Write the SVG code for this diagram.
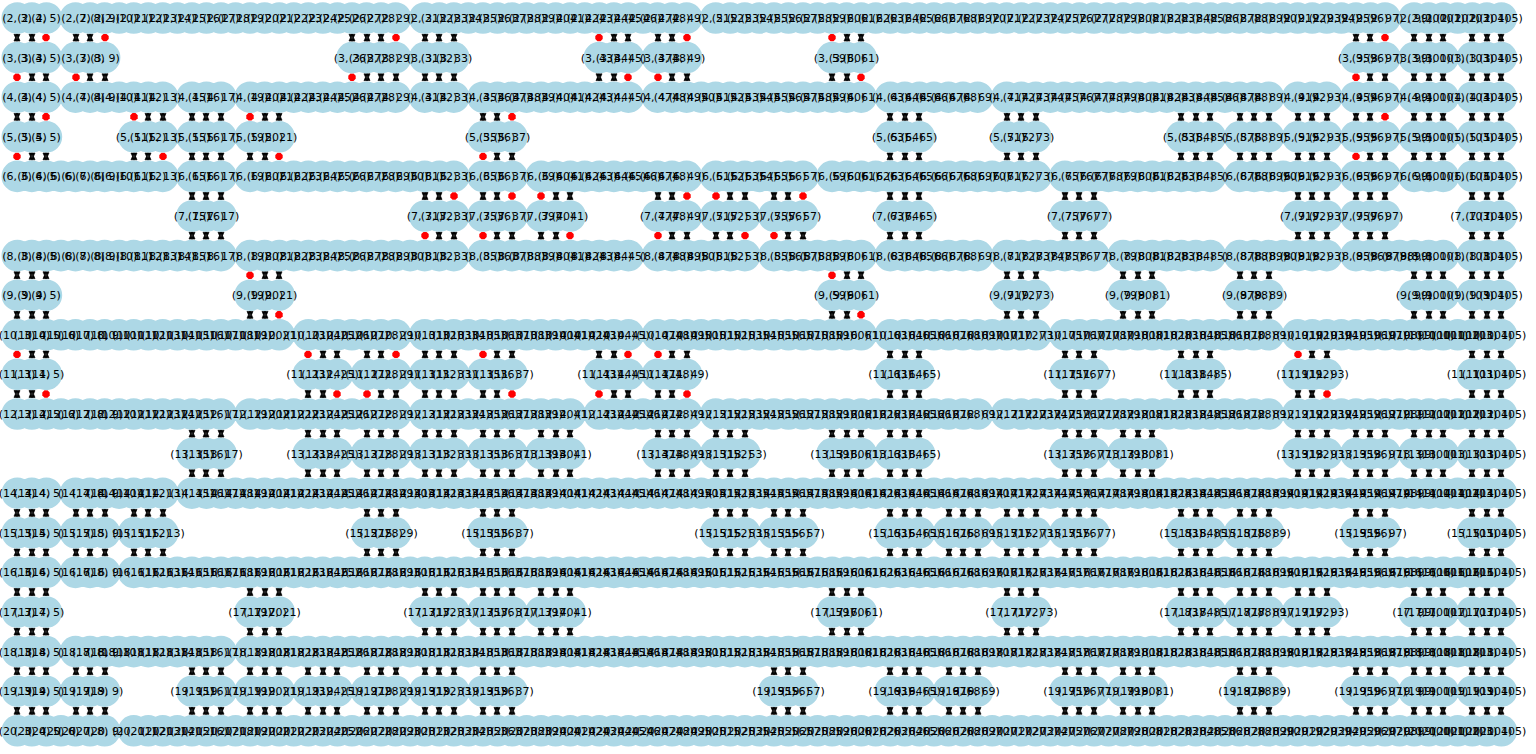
<svg xmlns="http://www.w3.org/2000/svg" width="1536" height="754" viewBox="0 0 1536 754">
<style>
.n path{fill:none;stroke:#add8e6;stroke-width:31.6;stroke-linecap:round;stroke-dasharray:0 14.55}
.n text{font-family:"DejaVu Sans",sans-serif;font-size:11px;text-anchor:middle;fill:#000}
.e{fill:none;stroke:none;marker-start:url(#bw);marker-mid:url(#bw);marker-end:url(#bw)}
.r{fill:none;stroke:none;marker-start:url(#rd);marker-mid:url(#rd);marker-end:url(#rd)}
</style>
<defs>
<marker id="bw" markerUnits="userSpaceOnUse" markerWidth="12" markerHeight="12" refX="6" refY="6" orient="0"><path d="M3 2.6H9L6 9.4ZM3 9.4H9L6 2.6ZM5.4 2.6H6.6V9.4H5.4Z" fill="#000" stroke="#000" stroke-width="0.7"/></marker>
<marker id="rd" markerUnits="userSpaceOnUse" markerWidth="12" markerHeight="12" refX="6" refY="6" orient="0"><path d="M4.5 2.3H7.5L9.7 4.5V7.5L7.5 9.7H4.5L2.3 7.5V4.5Z" fill="#f00"/></marker>
</defs>
<rect width="1536" height="754" fill="#fff"/>
<g id="connectors">
<path class="e" transform="translate(0 37.6)" d="M17 0H32H76H90H352H367H381H425H439H454H614H628H658H672H847H861H1356H1370H1414H1429H1443H1472H1487H1501"/>
<path class="r" transform="translate(0 37.6)" d="M46 0H105H396H599H687H832H1385"/>
<path class="e" transform="translate(0 77.2)" d="M32 0H46H90H105H367H381H396H425H439H454H599H614H672H687H832H847H1370H1385H1414H1429H1443H1472H1487H1501"/>
<path class="r" transform="translate(0 77.2)" d="M17 0H76H352H628H658H861H1356"/>
<path class="e" transform="translate(0 116.8)" d="M17 0H32H148H163H192H206H221H265H279H483H497H890H905H919H1007H1021H1036H1181H1196H1210H1240H1254H1269H1298H1312H1327H1356H1370H1414H1429H1443H1472H1487H1501"/>
<path class="r" transform="translate(0 116.8)" d="M46 0H134H250H512H1385"/>
<path class="e" transform="translate(0 156.4)" d="M32 0H46H134H148H192H206H221H250H265H497H512H890H905H919H1007H1021H1036H1181H1196H1210H1240H1254H1269H1298H1312H1327H1370H1385H1414H1429H1443H1472H1487H1501"/>
<path class="r" transform="translate(0 156.4)" d="M17 0H163H279H483H1356"/>
<path class="e" transform="translate(0 196)" d="M192 0H206H221H425H439H483H497H556H570H658H672H730H745H774H788H890H905H919H1065H1079H1094H1298H1312H1327H1356H1370H1385H1472H1487H1501"/>
<path class="r" transform="translate(0 196)" d="M454 0H512H541H687H716H803"/>
<path class="e" transform="translate(0 235.6)" d="M192 0H206H221H439H454H497H512H541H556H672H687H716H730H788H803H890H905H919H1065H1079H1094H1298H1312H1327H1356H1370H1385H1472H1487H1501"/>
<path class="r" transform="translate(0 235.6)" d="M425 0H483H570H658H745H774"/>
<path class="e" transform="translate(0 275.2)" d="M17 0H32H46H265H279H847H861H1007H1021H1036H1123H1138H1152H1240H1254H1269H1414H1429H1443H1472H1487H1501"/>
<path class="r" transform="translate(0 275.2)" d="M250 0H832"/>
<path class="e" transform="translate(0 314.8)" d="M17 0H32H46H250H265H832H847H1007H1021H1036H1123H1138H1152H1240H1254H1269H1414H1429H1443H1472H1487H1501"/>
<path class="r" transform="translate(0 314.8)" d="M279 0H861"/>
<path class="e" transform="translate(0 354.4)" d="M32 0H46H323H337H367H381H425H439H454H497H512H599H614H672H687H890H905H919H1065H1079H1094H1181H1196H1210H1312H1327H1472H1487H1501"/>
<path class="r" transform="translate(0 354.4)" d="M17 0H308H396H483H628H658H1298"/>
<path class="e" transform="translate(0 394)" d="M17 0H32H308H323H381H396H425H439H454H483H497H614H628H658H672H890H905H919H1065H1079H1094H1181H1196H1210H1298H1312H1472H1487H1501"/>
<path class="r" transform="translate(0 394)" d="M46 0H337H367H512H599H687H1327"/>
<path class="e" transform="translate(0 433.6)" d="M192 0H206H221H308H323H337H367H381H396H425H439H454H483H497H512H541H556H570H658H672H687H716H730H745H832H847H861H890H905H919H1065H1079H1094H1123H1138H1152H1298H1312H1327H1356H1370H1385H1414H1429H1443H1472H1487H1501"/>
<path class="e" transform="translate(0 473.2)" d="M192 0H206H221H308H323H337H367H381H396H425H439H454H483H497H512H541H556H570H658H672H687H716H730H745H832H847H861H890H905H919H1065H1079H1094H1123H1138H1152H1298H1312H1327H1356H1370H1385H1414H1429H1443H1472H1487H1501"/>
<path class="e" transform="translate(0 512.8)" d="M17 0H32H46H76H90H105H134H148H163H367H381H396H483H497H512H716H730H745H774H788H803H890H905H919H949H963H978H1007H1021H1036H1065H1079H1094H1181H1196H1210H1240H1254H1269H1356H1370H1385H1472H1487H1501"/>
<path class="e" transform="translate(0 552.4)" d="M17 0H32H46H76H90H105H134H148H163H367H381H396H483H497H512H716H730H745H774H788H803H890H905H919H949H963H978H1007H1021H1036H1065H1079H1094H1181H1196H1210H1240H1254H1269H1356H1370H1385H1472H1487H1501"/>
<path class="e" transform="translate(0 592)" d="M17 0H32H46H250H265H279H425H439H454H483H497H512H541H556H570H832H847H861H1007H1021H1036H1181H1196H1210H1240H1254H1269H1298H1312H1327H1414H1429H1443H1472H1487H1501"/>
<path class="e" transform="translate(0 631.6)" d="M17 0H32H46H250H265H279H425H439H454H483H497H512H541H556H570H832H847H861H1007H1021H1036H1181H1196H1210H1240H1254H1269H1298H1312H1327H1414H1429H1443H1472H1487H1501"/>
<path class="e" transform="translate(0 671.2)" d="M17 0H32H46H76H90H105H192H206H221H250H265H279H308H323H337H367H381H396H425H439H454H483H497H512H774H788H803H890H905H919H949H963H978H1065H1079H1094H1123H1138H1152H1240H1254H1269H1356H1370H1385H1414H1429H1443H1472H1487H1501"/>
<path class="e" transform="translate(0 710.8)" d="M17 0H32H46H76H90H105H192H206H221H250H265H279H308H323H337H367H381H396H425H439H454H483H497H512H774H788H803H890H905H919H949H963H978H1065H1079H1094H1123H1138H1152H1240H1254H1269H1356H1370H1385H1414H1429H1443H1472H1487H1501"/>
</g>
<g id="row2" class="n" transform="translate(0 18)"><path d="M17.3 0H46.5M75.5 0H395.7M424.7 0H686.7M715.7 0H1385.1M1414.1 0H1501.5"/><text y="4"><tspan x="17">(2, 3)</tspan><tspan x="32">(2, 4)</tspan><tspan x="46">(2, 5)</tspan><tspan x="76">(2, 7)</tspan><tspan x="90">(2, 8)</tspan><tspan x="105">(2, 9)</tspan><tspan x="119">(2, 10)</tspan><tspan x="134">(2, 11)</tspan><tspan x="148">(2, 12)</tspan><tspan x="163">(2, 13)</tspan><tspan x="177">(2, 14)</tspan><tspan x="192">(2, 15)</tspan><tspan x="206">(2, 16)</tspan><tspan x="221">(2, 17)</tspan><tspan x="236">(2, 18)</tspan><tspan x="250">(2, 19)</tspan><tspan x="265">(2, 20)</tspan><tspan x="279">(2, 21)</tspan><tspan x="294">(2, 22)</tspan><tspan x="308">(2, 23)</tspan><tspan x="323">(2, 24)</tspan><tspan x="337">(2, 25)</tspan><tspan x="352">(2, 26)</tspan><tspan x="367">(2, 27)</tspan><tspan x="381">(2, 28)</tspan><tspan x="396">(2, 29)</tspan><tspan x="425">(2, 31)</tspan><tspan x="439">(2, 32)</tspan><tspan x="454">(2, 33)</tspan><tspan x="468">(2, 34)</tspan><tspan x="483">(2, 35)</tspan><tspan x="497">(2, 36)</tspan><tspan x="512">(2, 37)</tspan><tspan x="527">(2, 38)</tspan><tspan x="541">(2, 39)</tspan><tspan x="556">(2, 40)</tspan><tspan x="570">(2, 41)</tspan><tspan x="585">(2, 42)</tspan><tspan x="599">(2, 43)</tspan><tspan x="614">(2, 44)</tspan><tspan x="628">(2, 45)</tspan><tspan x="643">(2, 46)</tspan><tspan x="658">(2, 47)</tspan><tspan x="672">(2, 48)</tspan><tspan x="687">(2, 49)</tspan><tspan x="716">(2, 51)</tspan><tspan x="730">(2, 52)</tspan><tspan x="745">(2, 53)</tspan><tspan x="759">(2, 54)</tspan><tspan x="774">(2, 55)</tspan><tspan x="788">(2, 56)</tspan><tspan x="803">(2, 57)</tspan><tspan x="818">(2, 58)</tspan><tspan x="832">(2, 59)</tspan><tspan x="847">(2, 60)</tspan><tspan x="861">(2, 61)</tspan><tspan x="876">(2, 62)</tspan><tspan x="890">(2, 63)</tspan><tspan x="905">(2, 64)</tspan><tspan x="919">(2, 65)</tspan><tspan x="934">(2, 66)</tspan><tspan x="949">(2, 67)</tspan><tspan x="963">(2, 68)</tspan><tspan x="978">(2, 69)</tspan><tspan x="992">(2, 70)</tspan><tspan x="1007">(2, 71)</tspan><tspan x="1021">(2, 72)</tspan><tspan x="1036">(2, 73)</tspan><tspan x="1050">(2, 74)</tspan><tspan x="1065">(2, 75)</tspan><tspan x="1079">(2, 76)</tspan><tspan x="1094">(2, 77)</tspan><tspan x="1109">(2, 78)</tspan><tspan x="1123">(2, 79)</tspan><tspan x="1138">(2, 80)</tspan><tspan x="1152">(2, 81)</tspan><tspan x="1167">(2, 82)</tspan><tspan x="1181">(2, 83)</tspan><tspan x="1196">(2, 84)</tspan><tspan x="1210">(2, 85)</tspan><tspan x="1225">(2, 86)</tspan><tspan x="1240">(2, 87)</tspan><tspan x="1254">(2, 88)</tspan><tspan x="1269">(2, 89)</tspan><tspan x="1283">(2, 90)</tspan><tspan x="1298">(2, 91)</tspan><tspan x="1312">(2, 92)</tspan><tspan x="1327">(2, 93)</tspan><tspan x="1341">(2, 94)</tspan><tspan x="1356">(2, 95)</tspan><tspan x="1370">(2, 96)</tspan><tspan x="1385">(2, 97)</tspan><tspan x="1414">(2, 99)</tspan><tspan x="1429">(2, 100)</tspan><tspan x="1443">(2, 101)</tspan><tspan x="1458">(2, 102)</tspan><tspan x="1472">(2, 103)</tspan><tspan x="1487">(2, 104)</tspan><tspan x="1501">(2, 105)</tspan></text></g>
<g id="row3" class="n" transform="translate(0 57.6)"><path d="M17.3 0H46.5M75.5 0H104.7M351.95 0H395.7M424.7 0H453.9M599.3 0H628.5M657.5 0H686.7M832.1 0H861.3M1355.9 0H1385.1M1414.1 0H1443.3M1472.3 0H1501.5"/><text y="4"><tspan x="17">(3, 3)</tspan><tspan x="32">(3, 4)</tspan><tspan x="46">(3, 5)</tspan><tspan x="76">(3, 7)</tspan><tspan x="90">(3, 8)</tspan><tspan x="105">(3, 9)</tspan><tspan x="352">(3, 26)</tspan><tspan x="367">(3, 27)</tspan><tspan x="381">(3, 28)</tspan><tspan x="396">(3, 29)</tspan><tspan x="425">(3, 31)</tspan><tspan x="439">(3, 32)</tspan><tspan x="454">(3, 33)</tspan><tspan x="599">(3, 43)</tspan><tspan x="614">(3, 44)</tspan><tspan x="628">(3, 45)</tspan><tspan x="658">(3, 47)</tspan><tspan x="672">(3, 48)</tspan><tspan x="687">(3, 49)</tspan><tspan x="832">(3, 59)</tspan><tspan x="847">(3, 60)</tspan><tspan x="861">(3, 61)</tspan><tspan x="1356">(3, 95)</tspan><tspan x="1370">(3, 96)</tspan><tspan x="1385">(3, 97)</tspan><tspan x="1414">(3, 99)</tspan><tspan x="1429">(3, 100)</tspan><tspan x="1443">(3, 101)</tspan><tspan x="1472">(3, 103)</tspan><tspan x="1487">(3, 104)</tspan><tspan x="1501">(3, 105)</tspan></text></g>
<g id="row4" class="n" transform="translate(0 97.2)"><path d="M17.3 0H46.5M75.5 0H162.9M191.9 0H221.1M250.1 0H395.7M424.7 0H453.9M482.9 0H628.5M657.5 0H861.3M890.3 0H977.7M1006.7 0H1268.7M1297.7 0H1326.9M1355.9 0H1385.1M1414.1 0H1443.3M1472.3 0H1501.5"/><text y="4"><tspan x="17">(4, 3)</tspan><tspan x="32">(4, 4)</tspan><tspan x="46">(4, 5)</tspan><tspan x="76">(4, 7)</tspan><tspan x="90">(4, 8)</tspan><tspan x="105">(4, 9)</tspan><tspan x="119">(4, 10)</tspan><tspan x="134">(4, 11)</tspan><tspan x="148">(4, 12)</tspan><tspan x="163">(4, 13)</tspan><tspan x="192">(4, 15)</tspan><tspan x="206">(4, 16)</tspan><tspan x="221">(4, 17)</tspan><tspan x="250">(4, 19)</tspan><tspan x="265">(4, 20)</tspan><tspan x="279">(4, 21)</tspan><tspan x="294">(4, 22)</tspan><tspan x="308">(4, 23)</tspan><tspan x="323">(4, 24)</tspan><tspan x="337">(4, 25)</tspan><tspan x="352">(4, 26)</tspan><tspan x="367">(4, 27)</tspan><tspan x="381">(4, 28)</tspan><tspan x="396">(4, 29)</tspan><tspan x="425">(4, 31)</tspan><tspan x="439">(4, 32)</tspan><tspan x="454">(4, 33)</tspan><tspan x="483">(4, 35)</tspan><tspan x="497">(4, 36)</tspan><tspan x="512">(4, 37)</tspan><tspan x="527">(4, 38)</tspan><tspan x="541">(4, 39)</tspan><tspan x="556">(4, 40)</tspan><tspan x="570">(4, 41)</tspan><tspan x="585">(4, 42)</tspan><tspan x="599">(4, 43)</tspan><tspan x="614">(4, 44)</tspan><tspan x="628">(4, 45)</tspan><tspan x="658">(4, 47)</tspan><tspan x="672">(4, 48)</tspan><tspan x="687">(4, 49)</tspan><tspan x="701">(4, 50)</tspan><tspan x="716">(4, 51)</tspan><tspan x="730">(4, 52)</tspan><tspan x="745">(4, 53)</tspan><tspan x="759">(4, 54)</tspan><tspan x="774">(4, 55)</tspan><tspan x="788">(4, 56)</tspan><tspan x="803">(4, 57)</tspan><tspan x="818">(4, 58)</tspan><tspan x="832">(4, 59)</tspan><tspan x="847">(4, 60)</tspan><tspan x="861">(4, 61)</tspan><tspan x="890">(4, 63)</tspan><tspan x="905">(4, 64)</tspan><tspan x="919">(4, 65)</tspan><tspan x="934">(4, 66)</tspan><tspan x="949">(4, 67)</tspan><tspan x="963">(4, 68)</tspan><tspan x="978">(4, 69)</tspan><tspan x="1007">(4, 71)</tspan><tspan x="1021">(4, 72)</tspan><tspan x="1036">(4, 73)</tspan><tspan x="1050">(4, 74)</tspan><tspan x="1065">(4, 75)</tspan><tspan x="1079">(4, 76)</tspan><tspan x="1094">(4, 77)</tspan><tspan x="1109">(4, 78)</tspan><tspan x="1123">(4, 79)</tspan><tspan x="1138">(4, 80)</tspan><tspan x="1152">(4, 81)</tspan><tspan x="1167">(4, 82)</tspan><tspan x="1181">(4, 83)</tspan><tspan x="1196">(4, 84)</tspan><tspan x="1210">(4, 85)</tspan><tspan x="1225">(4, 86)</tspan><tspan x="1240">(4, 87)</tspan><tspan x="1254">(4, 88)</tspan><tspan x="1269">(4, 89)</tspan><tspan x="1298">(4, 91)</tspan><tspan x="1312">(4, 92)</tspan><tspan x="1327">(4, 93)</tspan><tspan x="1356">(4, 95)</tspan><tspan x="1370">(4, 96)</tspan><tspan x="1385">(4, 97)</tspan><tspan x="1414">(4, 99)</tspan><tspan x="1429">(4, 100)</tspan><tspan x="1443">(4, 101)</tspan><tspan x="1472">(4, 103)</tspan><tspan x="1487">(4, 104)</tspan><tspan x="1501">(4, 105)</tspan></text></g>
<g id="row5" class="n" transform="translate(0 136.8)"><path d="M17.3 0H46.5M133.7 0H162.9M191.9 0H221.1M250.1 0H279.3M482.9 0H512.1M890.3 0H919.5M1006.7 0H1035.9M1181.3 0H1210.5M1239.5 0H1268.7M1297.7 0H1326.9M1355.9 0H1385.1M1414.1 0H1443.3M1472.3 0H1501.5"/><text y="4"><tspan x="17">(5, 3)</tspan><tspan x="32">(5, 4)</tspan><tspan x="46">(5, 5)</tspan><tspan x="134">(5, 11)</tspan><tspan x="148">(5, 12)</tspan><tspan x="163">(5, 13)</tspan><tspan x="192">(5, 15)</tspan><tspan x="206">(5, 16)</tspan><tspan x="221">(5, 17)</tspan><tspan x="250">(5, 19)</tspan><tspan x="265">(5, 20)</tspan><tspan x="279">(5, 21)</tspan><tspan x="483">(5, 35)</tspan><tspan x="497">(5, 36)</tspan><tspan x="512">(5, 37)</tspan><tspan x="890">(5, 63)</tspan><tspan x="905">(5, 64)</tspan><tspan x="919">(5, 65)</tspan><tspan x="1007">(5, 71)</tspan><tspan x="1021">(5, 72)</tspan><tspan x="1036">(5, 73)</tspan><tspan x="1181">(5, 83)</tspan><tspan x="1196">(5, 84)</tspan><tspan x="1210">(5, 85)</tspan><tspan x="1240">(5, 87)</tspan><tspan x="1254">(5, 88)</tspan><tspan x="1269">(5, 89)</tspan><tspan x="1298">(5, 91)</tspan><tspan x="1312">(5, 92)</tspan><tspan x="1327">(5, 93)</tspan><tspan x="1356">(5, 95)</tspan><tspan x="1370">(5, 96)</tspan><tspan x="1385">(5, 97)</tspan><tspan x="1414">(5, 99)</tspan><tspan x="1429">(5, 100)</tspan><tspan x="1443">(5, 101)</tspan><tspan x="1472">(5, 103)</tspan><tspan x="1487">(5, 104)</tspan><tspan x="1501">(5, 105)</tspan></text></g>
<g id="row6" class="n" transform="translate(0 176.4)"><path d="M17.3 0H162.9M191.9 0H221.1M250.1 0H453.9M482.9 0H512.1M541.1 0H686.7M715.7 0H803.1M832.1 0H1035.9M1064.9 0H1210.5M1239.5 0H1326.9M1355.9 0H1385.1M1414.1 0H1443.3M1472.3 0H1501.5"/><text y="4"><tspan x="17">(6, 3)</tspan><tspan x="32">(6, 4)</tspan><tspan x="46">(6, 5)</tspan><tspan x="61">(6, 6)</tspan><tspan x="76">(6, 7)</tspan><tspan x="90">(6, 8)</tspan><tspan x="105">(6, 9)</tspan><tspan x="119">(6, 10)</tspan><tspan x="134">(6, 11)</tspan><tspan x="148">(6, 12)</tspan><tspan x="163">(6, 13)</tspan><tspan x="192">(6, 15)</tspan><tspan x="206">(6, 16)</tspan><tspan x="221">(6, 17)</tspan><tspan x="250">(6, 19)</tspan><tspan x="265">(6, 20)</tspan><tspan x="279">(6, 21)</tspan><tspan x="294">(6, 22)</tspan><tspan x="308">(6, 23)</tspan><tspan x="323">(6, 24)</tspan><tspan x="337">(6, 25)</tspan><tspan x="352">(6, 26)</tspan><tspan x="367">(6, 27)</tspan><tspan x="381">(6, 28)</tspan><tspan x="396">(6, 29)</tspan><tspan x="410">(6, 30)</tspan><tspan x="425">(6, 31)</tspan><tspan x="439">(6, 32)</tspan><tspan x="454">(6, 33)</tspan><tspan x="483">(6, 35)</tspan><tspan x="497">(6, 36)</tspan><tspan x="512">(6, 37)</tspan><tspan x="541">(6, 39)</tspan><tspan x="556">(6, 40)</tspan><tspan x="570">(6, 41)</tspan><tspan x="585">(6, 42)</tspan><tspan x="599">(6, 43)</tspan><tspan x="614">(6, 44)</tspan><tspan x="628">(6, 45)</tspan><tspan x="643">(6, 46)</tspan><tspan x="658">(6, 47)</tspan><tspan x="672">(6, 48)</tspan><tspan x="687">(6, 49)</tspan><tspan x="716">(6, 51)</tspan><tspan x="730">(6, 52)</tspan><tspan x="745">(6, 53)</tspan><tspan x="759">(6, 54)</tspan><tspan x="774">(6, 55)</tspan><tspan x="788">(6, 56)</tspan><tspan x="803">(6, 57)</tspan><tspan x="832">(6, 59)</tspan><tspan x="847">(6, 60)</tspan><tspan x="861">(6, 61)</tspan><tspan x="876">(6, 62)</tspan><tspan x="890">(6, 63)</tspan><tspan x="905">(6, 64)</tspan><tspan x="919">(6, 65)</tspan><tspan x="934">(6, 66)</tspan><tspan x="949">(6, 67)</tspan><tspan x="963">(6, 68)</tspan><tspan x="978">(6, 69)</tspan><tspan x="992">(6, 70)</tspan><tspan x="1007">(6, 71)</tspan><tspan x="1021">(6, 72)</tspan><tspan x="1036">(6, 73)</tspan><tspan x="1065">(6, 75)</tspan><tspan x="1079">(6, 76)</tspan><tspan x="1094">(6, 77)</tspan><tspan x="1109">(6, 78)</tspan><tspan x="1123">(6, 79)</tspan><tspan x="1138">(6, 80)</tspan><tspan x="1152">(6, 81)</tspan><tspan x="1167">(6, 82)</tspan><tspan x="1181">(6, 83)</tspan><tspan x="1196">(6, 84)</tspan><tspan x="1210">(6, 85)</tspan><tspan x="1240">(6, 87)</tspan><tspan x="1254">(6, 88)</tspan><tspan x="1269">(6, 89)</tspan><tspan x="1283">(6, 90)</tspan><tspan x="1298">(6, 91)</tspan><tspan x="1312">(6, 92)</tspan><tspan x="1327">(6, 93)</tspan><tspan x="1356">(6, 95)</tspan><tspan x="1370">(6, 96)</tspan><tspan x="1385">(6, 97)</tspan><tspan x="1414">(6, 99)</tspan><tspan x="1429">(6, 100)</tspan><tspan x="1443">(6, 101)</tspan><tspan x="1472">(6, 103)</tspan><tspan x="1487">(6, 104)</tspan><tspan x="1501">(6, 105)</tspan></text></g>
<g id="row7" class="n" transform="translate(0 216)"><path d="M191.9 0H221.1M424.7 0H453.9M482.9 0H512.1M541.1 0H570.3M657.5 0H686.7M715.7 0H744.9M773.9 0H803.1M890.3 0H919.5M1064.9 0H1094.1M1297.7 0H1326.9M1355.9 0H1385.1M1472.3 0H1501.5"/><text y="4"><tspan x="192">(7, 15)</tspan><tspan x="206">(7, 16)</tspan><tspan x="221">(7, 17)</tspan><tspan x="425">(7, 31)</tspan><tspan x="439">(7, 32)</tspan><tspan x="454">(7, 33)</tspan><tspan x="483">(7, 35)</tspan><tspan x="497">(7, 36)</tspan><tspan x="512">(7, 37)</tspan><tspan x="541">(7, 39)</tspan><tspan x="556">(7, 40)</tspan><tspan x="570">(7, 41)</tspan><tspan x="658">(7, 47)</tspan><tspan x="672">(7, 48)</tspan><tspan x="687">(7, 49)</tspan><tspan x="716">(7, 51)</tspan><tspan x="730">(7, 52)</tspan><tspan x="745">(7, 53)</tspan><tspan x="774">(7, 55)</tspan><tspan x="788">(7, 56)</tspan><tspan x="803">(7, 57)</tspan><tspan x="890">(7, 63)</tspan><tspan x="905">(7, 64)</tspan><tspan x="919">(7, 65)</tspan><tspan x="1065">(7, 75)</tspan><tspan x="1079">(7, 76)</tspan><tspan x="1094">(7, 77)</tspan><tspan x="1298">(7, 91)</tspan><tspan x="1312">(7, 92)</tspan><tspan x="1327">(7, 93)</tspan><tspan x="1356">(7, 95)</tspan><tspan x="1370">(7, 96)</tspan><tspan x="1385">(7, 97)</tspan><tspan x="1472">(7, 103)</tspan><tspan x="1487">(7, 104)</tspan><tspan x="1501">(7, 105)</tspan></text></g>
<g id="row8" class="n" transform="translate(0 255.6)"><path d="M17.3 0H221.1M250.1 0H453.9M482.9 0H628.5M657.5 0H744.9M773.9 0H861.3M890.3 0H977.7M1006.7 0H1094.1M1123.1 0H1210.5M1239.5 0H1326.9M1355.9 0H1443.3M1472.3 0H1501.5"/><text y="4"><tspan x="17">(8, 3)</tspan><tspan x="32">(8, 4)</tspan><tspan x="46">(8, 5)</tspan><tspan x="61">(8, 6)</tspan><tspan x="76">(8, 7)</tspan><tspan x="90">(8, 8)</tspan><tspan x="105">(8, 9)</tspan><tspan x="119">(8, 10)</tspan><tspan x="134">(8, 11)</tspan><tspan x="148">(8, 12)</tspan><tspan x="163">(8, 13)</tspan><tspan x="177">(8, 14)</tspan><tspan x="192">(8, 15)</tspan><tspan x="206">(8, 16)</tspan><tspan x="221">(8, 17)</tspan><tspan x="250">(8, 19)</tspan><tspan x="265">(8, 20)</tspan><tspan x="279">(8, 21)</tspan><tspan x="294">(8, 22)</tspan><tspan x="308">(8, 23)</tspan><tspan x="323">(8, 24)</tspan><tspan x="337">(8, 25)</tspan><tspan x="352">(8, 26)</tspan><tspan x="367">(8, 27)</tspan><tspan x="381">(8, 28)</tspan><tspan x="396">(8, 29)</tspan><tspan x="410">(8, 30)</tspan><tspan x="425">(8, 31)</tspan><tspan x="439">(8, 32)</tspan><tspan x="454">(8, 33)</tspan><tspan x="483">(8, 35)</tspan><tspan x="497">(8, 36)</tspan><tspan x="512">(8, 37)</tspan><tspan x="527">(8, 38)</tspan><tspan x="541">(8, 39)</tspan><tspan x="556">(8, 40)</tspan><tspan x="570">(8, 41)</tspan><tspan x="585">(8, 42)</tspan><tspan x="599">(8, 43)</tspan><tspan x="614">(8, 44)</tspan><tspan x="628">(8, 45)</tspan><tspan x="658">(8, 47)</tspan><tspan x="672">(8, 48)</tspan><tspan x="687">(8, 49)</tspan><tspan x="701">(8, 50)</tspan><tspan x="716">(8, 51)</tspan><tspan x="730">(8, 52)</tspan><tspan x="745">(8, 53)</tspan><tspan x="774">(8, 55)</tspan><tspan x="788">(8, 56)</tspan><tspan x="803">(8, 57)</tspan><tspan x="818">(8, 58)</tspan><tspan x="832">(8, 59)</tspan><tspan x="847">(8, 60)</tspan><tspan x="861">(8, 61)</tspan><tspan x="890">(8, 63)</tspan><tspan x="905">(8, 64)</tspan><tspan x="919">(8, 65)</tspan><tspan x="934">(8, 66)</tspan><tspan x="949">(8, 67)</tspan><tspan x="963">(8, 68)</tspan><tspan x="978">(8, 69)</tspan><tspan x="1007">(8, 71)</tspan><tspan x="1021">(8, 72)</tspan><tspan x="1036">(8, 73)</tspan><tspan x="1050">(8, 74)</tspan><tspan x="1065">(8, 75)</tspan><tspan x="1079">(8, 76)</tspan><tspan x="1094">(8, 77)</tspan><tspan x="1123">(8, 79)</tspan><tspan x="1138">(8, 80)</tspan><tspan x="1152">(8, 81)</tspan><tspan x="1167">(8, 82)</tspan><tspan x="1181">(8, 83)</tspan><tspan x="1196">(8, 84)</tspan><tspan x="1210">(8, 85)</tspan><tspan x="1240">(8, 87)</tspan><tspan x="1254">(8, 88)</tspan><tspan x="1269">(8, 89)</tspan><tspan x="1283">(8, 90)</tspan><tspan x="1298">(8, 91)</tspan><tspan x="1312">(8, 92)</tspan><tspan x="1327">(8, 93)</tspan><tspan x="1356">(8, 95)</tspan><tspan x="1370">(8, 96)</tspan><tspan x="1385">(8, 97)</tspan><tspan x="1400">(8, 98)</tspan><tspan x="1414">(8, 99)</tspan><tspan x="1429">(8, 100)</tspan><tspan x="1443">(8, 101)</tspan><tspan x="1472">(8, 103)</tspan><tspan x="1487">(8, 104)</tspan><tspan x="1501">(8, 105)</tspan></text></g>
<g id="row9" class="n" transform="translate(0 295.2)"><path d="M17.3 0H46.5M250.1 0H279.3M832.1 0H861.3M1006.7 0H1035.9M1123.1 0H1152.3M1239.5 0H1268.7M1414.1 0H1443.3M1472.3 0H1501.5"/><text y="4"><tspan x="17">(9, 3)</tspan><tspan x="32">(9, 4)</tspan><tspan x="46">(9, 5)</tspan><tspan x="250">(9, 19)</tspan><tspan x="265">(9, 20)</tspan><tspan x="279">(9, 21)</tspan><tspan x="832">(9, 59)</tspan><tspan x="847">(9, 60)</tspan><tspan x="861">(9, 61)</tspan><tspan x="1007">(9, 71)</tspan><tspan x="1021">(9, 72)</tspan><tspan x="1036">(9, 73)</tspan><tspan x="1123">(9, 79)</tspan><tspan x="1138">(9, 80)</tspan><tspan x="1152">(9, 81)</tspan><tspan x="1240">(9, 87)</tspan><tspan x="1254">(9, 88)</tspan><tspan x="1269">(9, 89)</tspan><tspan x="1414">(9, 99)</tspan><tspan x="1429">(9, 100)</tspan><tspan x="1443">(9, 101)</tspan><tspan x="1472">(9, 103)</tspan><tspan x="1487">(9, 104)</tspan><tspan x="1501">(9, 105)</tspan></text></g>
<g id="row10" class="n" transform="translate(0 334.8)"><path d="M17.3 0H279.3M308.3 0H395.7M424.7 0H628.5M657.5 0H861.3M890.3 0H1035.9M1064.9 0H1268.7M1297.7 0H1501.5"/><text y="4"><tspan x="17">(10, 3)</tspan><tspan x="32">(10, 4)</tspan><tspan x="46">(10, 5)</tspan><tspan x="61">(10, 6)</tspan><tspan x="76">(10, 7)</tspan><tspan x="90">(10, 8)</tspan><tspan x="105">(10, 9)</tspan><tspan x="119">(10, 10)</tspan><tspan x="134">(10, 11)</tspan><tspan x="148">(10, 12)</tspan><tspan x="163">(10, 13)</tspan><tspan x="177">(10, 14)</tspan><tspan x="192">(10, 15)</tspan><tspan x="206">(10, 16)</tspan><tspan x="221">(10, 17)</tspan><tspan x="236">(10, 18)</tspan><tspan x="250">(10, 19)</tspan><tspan x="265">(10, 20)</tspan><tspan x="279">(10, 21)</tspan><tspan x="308">(10, 23)</tspan><tspan x="323">(10, 24)</tspan><tspan x="337">(10, 25)</tspan><tspan x="352">(10, 26)</tspan><tspan x="367">(10, 27)</tspan><tspan x="381">(10, 28)</tspan><tspan x="396">(10, 29)</tspan><tspan x="425">(10, 31)</tspan><tspan x="439">(10, 32)</tspan><tspan x="454">(10, 33)</tspan><tspan x="468">(10, 34)</tspan><tspan x="483">(10, 35)</tspan><tspan x="497">(10, 36)</tspan><tspan x="512">(10, 37)</tspan><tspan x="527">(10, 38)</tspan><tspan x="541">(10, 39)</tspan><tspan x="556">(10, 40)</tspan><tspan x="570">(10, 41)</tspan><tspan x="585">(10, 42)</tspan><tspan x="599">(10, 43)</tspan><tspan x="614">(10, 44)</tspan><tspan x="628">(10, 45)</tspan><tspan x="658">(10, 47)</tspan><tspan x="672">(10, 48)</tspan><tspan x="687">(10, 49)</tspan><tspan x="701">(10, 50)</tspan><tspan x="716">(10, 51)</tspan><tspan x="730">(10, 52)</tspan><tspan x="745">(10, 53)</tspan><tspan x="759">(10, 54)</tspan><tspan x="774">(10, 55)</tspan><tspan x="788">(10, 56)</tspan><tspan x="803">(10, 57)</tspan><tspan x="818">(10, 58)</tspan><tspan x="832">(10, 59)</tspan><tspan x="847">(10, 60)</tspan><tspan x="861">(10, 61)</tspan><tspan x="890">(10, 63)</tspan><tspan x="905">(10, 64)</tspan><tspan x="919">(10, 65)</tspan><tspan x="934">(10, 66)</tspan><tspan x="949">(10, 67)</tspan><tspan x="963">(10, 68)</tspan><tspan x="978">(10, 69)</tspan><tspan x="992">(10, 70)</tspan><tspan x="1007">(10, 71)</tspan><tspan x="1021">(10, 72)</tspan><tspan x="1036">(10, 73)</tspan><tspan x="1065">(10, 75)</tspan><tspan x="1079">(10, 76)</tspan><tspan x="1094">(10, 77)</tspan><tspan x="1109">(10, 78)</tspan><tspan x="1123">(10, 79)</tspan><tspan x="1138">(10, 80)</tspan><tspan x="1152">(10, 81)</tspan><tspan x="1167">(10, 82)</tspan><tspan x="1181">(10, 83)</tspan><tspan x="1196">(10, 84)</tspan><tspan x="1210">(10, 85)</tspan><tspan x="1225">(10, 86)</tspan><tspan x="1240">(10, 87)</tspan><tspan x="1254">(10, 88)</tspan><tspan x="1269">(10, 89)</tspan><tspan x="1298">(10, 91)</tspan><tspan x="1312">(10, 92)</tspan><tspan x="1327">(10, 93)</tspan><tspan x="1341">(10, 94)</tspan><tspan x="1356">(10, 95)</tspan><tspan x="1370">(10, 96)</tspan><tspan x="1385">(10, 97)</tspan><tspan x="1400">(10, 98)</tspan><tspan x="1414">(10, 99)</tspan><tspan x="1429">(10, 100)</tspan><tspan x="1443">(10, 101)</tspan><tspan x="1458">(10, 102)</tspan><tspan x="1472">(10, 103)</tspan><tspan x="1487">(10, 104)</tspan><tspan x="1501">(10, 105)</tspan></text></g>
<g id="row11" class="n" transform="translate(0 374.4)"><path d="M17.3 0H46.5M308.3 0H337.5M366.5 0H395.7M424.7 0H453.9M482.9 0H512.1M599.3 0H628.5M657.5 0H686.7M890.3 0H919.5M1064.9 0H1094.1M1181.3 0H1210.5M1297.7 0H1326.9M1472.3 0H1501.5"/><text y="4"><tspan x="17">(11, 3)</tspan><tspan x="32">(11, 4)</tspan><tspan x="46">(11, 5)</tspan><tspan x="308">(11, 23)</tspan><tspan x="323">(11, 24)</tspan><tspan x="337">(11, 25)</tspan><tspan x="367">(11, 27)</tspan><tspan x="381">(11, 28)</tspan><tspan x="396">(11, 29)</tspan><tspan x="425">(11, 31)</tspan><tspan x="439">(11, 32)</tspan><tspan x="454">(11, 33)</tspan><tspan x="483">(11, 35)</tspan><tspan x="497">(11, 36)</tspan><tspan x="512">(11, 37)</tspan><tspan x="599">(11, 43)</tspan><tspan x="614">(11, 44)</tspan><tspan x="628">(11, 45)</tspan><tspan x="658">(11, 47)</tspan><tspan x="672">(11, 48)</tspan><tspan x="687">(11, 49)</tspan><tspan x="890">(11, 63)</tspan><tspan x="905">(11, 64)</tspan><tspan x="919">(11, 65)</tspan><tspan x="1065">(11, 75)</tspan><tspan x="1079">(11, 76)</tspan><tspan x="1094">(11, 77)</tspan><tspan x="1181">(11, 83)</tspan><tspan x="1196">(11, 84)</tspan><tspan x="1210">(11, 85)</tspan><tspan x="1298">(11, 91)</tspan><tspan x="1312">(11, 92)</tspan><tspan x="1327">(11, 93)</tspan><tspan x="1472">(11, 103)</tspan><tspan x="1487">(11, 104)</tspan><tspan x="1501">(11, 105)</tspan></text></g>
<g id="row12" class="n" transform="translate(0 414)"><path d="M17.3 0H221.1M250.1 0H395.7M424.7 0H570.3M599.3 0H686.7M715.7 0H977.7M1006.7 0H1268.7M1297.7 0H1501.5"/><text y="4"><tspan x="17">(12, 3)</tspan><tspan x="32">(12, 4)</tspan><tspan x="46">(12, 5)</tspan><tspan x="61">(12, 6)</tspan><tspan x="76">(12, 7)</tspan><tspan x="90">(12, 8)</tspan><tspan x="105">(12, 9)</tspan><tspan x="119">(12, 10)</tspan><tspan x="134">(12, 11)</tspan><tspan x="148">(12, 12)</tspan><tspan x="163">(12, 13)</tspan><tspan x="177">(12, 14)</tspan><tspan x="192">(12, 15)</tspan><tspan x="206">(12, 16)</tspan><tspan x="221">(12, 17)</tspan><tspan x="250">(12, 19)</tspan><tspan x="265">(12, 20)</tspan><tspan x="279">(12, 21)</tspan><tspan x="294">(12, 22)</tspan><tspan x="308">(12, 23)</tspan><tspan x="323">(12, 24)</tspan><tspan x="337">(12, 25)</tspan><tspan x="352">(12, 26)</tspan><tspan x="367">(12, 27)</tspan><tspan x="381">(12, 28)</tspan><tspan x="396">(12, 29)</tspan><tspan x="425">(12, 31)</tspan><tspan x="439">(12, 32)</tspan><tspan x="454">(12, 33)</tspan><tspan x="468">(12, 34)</tspan><tspan x="483">(12, 35)</tspan><tspan x="497">(12, 36)</tspan><tspan x="512">(12, 37)</tspan><tspan x="527">(12, 38)</tspan><tspan x="541">(12, 39)</tspan><tspan x="556">(12, 40)</tspan><tspan x="570">(12, 41)</tspan><tspan x="599">(12, 43)</tspan><tspan x="614">(12, 44)</tspan><tspan x="628">(12, 45)</tspan><tspan x="643">(12, 46)</tspan><tspan x="658">(12, 47)</tspan><tspan x="672">(12, 48)</tspan><tspan x="687">(12, 49)</tspan><tspan x="716">(12, 51)</tspan><tspan x="730">(12, 52)</tspan><tspan x="745">(12, 53)</tspan><tspan x="759">(12, 54)</tspan><tspan x="774">(12, 55)</tspan><tspan x="788">(12, 56)</tspan><tspan x="803">(12, 57)</tspan><tspan x="818">(12, 58)</tspan><tspan x="832">(12, 59)</tspan><tspan x="847">(12, 60)</tspan><tspan x="861">(12, 61)</tspan><tspan x="876">(12, 62)</tspan><tspan x="890">(12, 63)</tspan><tspan x="905">(12, 64)</tspan><tspan x="919">(12, 65)</tspan><tspan x="934">(12, 66)</tspan><tspan x="949">(12, 67)</tspan><tspan x="963">(12, 68)</tspan><tspan x="978">(12, 69)</tspan><tspan x="1007">(12, 71)</tspan><tspan x="1021">(12, 72)</tspan><tspan x="1036">(12, 73)</tspan><tspan x="1050">(12, 74)</tspan><tspan x="1065">(12, 75)</tspan><tspan x="1079">(12, 76)</tspan><tspan x="1094">(12, 77)</tspan><tspan x="1109">(12, 78)</tspan><tspan x="1123">(12, 79)</tspan><tspan x="1138">(12, 80)</tspan><tspan x="1152">(12, 81)</tspan><tspan x="1167">(12, 82)</tspan><tspan x="1181">(12, 83)</tspan><tspan x="1196">(12, 84)</tspan><tspan x="1210">(12, 85)</tspan><tspan x="1225">(12, 86)</tspan><tspan x="1240">(12, 87)</tspan><tspan x="1254">(12, 88)</tspan><tspan x="1269">(12, 89)</tspan><tspan x="1298">(12, 91)</tspan><tspan x="1312">(12, 92)</tspan><tspan x="1327">(12, 93)</tspan><tspan x="1341">(12, 94)</tspan><tspan x="1356">(12, 95)</tspan><tspan x="1370">(12, 96)</tspan><tspan x="1385">(12, 97)</tspan><tspan x="1400">(12, 98)</tspan><tspan x="1414">(12, 99)</tspan><tspan x="1429">(12, 100)</tspan><tspan x="1443">(12, 101)</tspan><tspan x="1458">(12, 102)</tspan><tspan x="1472">(12, 103)</tspan><tspan x="1487">(12, 104)</tspan><tspan x="1501">(12, 105)</tspan></text></g>
<g id="row13" class="n" transform="translate(0 453.6)"><path d="M191.9 0H221.1M308.3 0H337.5M366.5 0H395.7M424.7 0H453.9M482.9 0H512.1M541.1 0H570.3M657.5 0H686.7M715.7 0H744.9M832.1 0H861.3M890.3 0H919.5M1064.9 0H1094.1M1123.1 0H1152.3M1297.7 0H1326.9M1355.9 0H1385.1M1414.1 0H1443.3M1472.3 0H1501.5"/><text y="4"><tspan x="192">(13, 15)</tspan><tspan x="206">(13, 16)</tspan><tspan x="221">(13, 17)</tspan><tspan x="308">(13, 23)</tspan><tspan x="323">(13, 24)</tspan><tspan x="337">(13, 25)</tspan><tspan x="367">(13, 27)</tspan><tspan x="381">(13, 28)</tspan><tspan x="396">(13, 29)</tspan><tspan x="425">(13, 31)</tspan><tspan x="439">(13, 32)</tspan><tspan x="454">(13, 33)</tspan><tspan x="483">(13, 35)</tspan><tspan x="497">(13, 36)</tspan><tspan x="512">(13, 37)</tspan><tspan x="541">(13, 39)</tspan><tspan x="556">(13, 40)</tspan><tspan x="570">(13, 41)</tspan><tspan x="658">(13, 47)</tspan><tspan x="672">(13, 48)</tspan><tspan x="687">(13, 49)</tspan><tspan x="716">(13, 51)</tspan><tspan x="730">(13, 52)</tspan><tspan x="745">(13, 53)</tspan><tspan x="832">(13, 59)</tspan><tspan x="847">(13, 60)</tspan><tspan x="861">(13, 61)</tspan><tspan x="890">(13, 63)</tspan><tspan x="905">(13, 64)</tspan><tspan x="919">(13, 65)</tspan><tspan x="1065">(13, 75)</tspan><tspan x="1079">(13, 76)</tspan><tspan x="1094">(13, 77)</tspan><tspan x="1123">(13, 79)</tspan><tspan x="1138">(13, 80)</tspan><tspan x="1152">(13, 81)</tspan><tspan x="1298">(13, 91)</tspan><tspan x="1312">(13, 92)</tspan><tspan x="1327">(13, 93)</tspan><tspan x="1356">(13, 95)</tspan><tspan x="1370">(13, 96)</tspan><tspan x="1385">(13, 97)</tspan><tspan x="1414">(13, 99)</tspan><tspan x="1429">(13, 100)</tspan><tspan x="1443">(13, 101)</tspan><tspan x="1472">(13, 103)</tspan><tspan x="1487">(13, 104)</tspan><tspan x="1501">(13, 105)</tspan></text></g>
<g id="row14" class="n" transform="translate(0 493.2)"><path d="M17.3 0H46.5M75.5 0H162.9M191.9 0H1501.5"/><text y="4"><tspan x="17">(14, 3)</tspan><tspan x="32">(14, 4)</tspan><tspan x="46">(14, 5)</tspan><tspan x="76">(14, 7)</tspan><tspan x="90">(14, 8)</tspan><tspan x="105">(14, 9)</tspan><tspan x="119">(14, 10)</tspan><tspan x="134">(14, 11)</tspan><tspan x="148">(14, 12)</tspan><tspan x="163">(14, 13)</tspan><tspan x="192">(14, 15)</tspan><tspan x="206">(14, 16)</tspan><tspan x="221">(14, 17)</tspan><tspan x="236">(14, 18)</tspan><tspan x="250">(14, 19)</tspan><tspan x="265">(14, 20)</tspan><tspan x="279">(14, 21)</tspan><tspan x="294">(14, 22)</tspan><tspan x="308">(14, 23)</tspan><tspan x="323">(14, 24)</tspan><tspan x="337">(14, 25)</tspan><tspan x="352">(14, 26)</tspan><tspan x="367">(14, 27)</tspan><tspan x="381">(14, 28)</tspan><tspan x="396">(14, 29)</tspan><tspan x="410">(14, 30)</tspan><tspan x="425">(14, 31)</tspan><tspan x="439">(14, 32)</tspan><tspan x="454">(14, 33)</tspan><tspan x="468">(14, 34)</tspan><tspan x="483">(14, 35)</tspan><tspan x="497">(14, 36)</tspan><tspan x="512">(14, 37)</tspan><tspan x="527">(14, 38)</tspan><tspan x="541">(14, 39)</tspan><tspan x="556">(14, 40)</tspan><tspan x="570">(14, 41)</tspan><tspan x="585">(14, 42)</tspan><tspan x="599">(14, 43)</tspan><tspan x="614">(14, 44)</tspan><tspan x="628">(14, 45)</tspan><tspan x="643">(14, 46)</tspan><tspan x="658">(14, 47)</tspan><tspan x="672">(14, 48)</tspan><tspan x="687">(14, 49)</tspan><tspan x="701">(14, 50)</tspan><tspan x="716">(14, 51)</tspan><tspan x="730">(14, 52)</tspan><tspan x="745">(14, 53)</tspan><tspan x="759">(14, 54)</tspan><tspan x="774">(14, 55)</tspan><tspan x="788">(14, 56)</tspan><tspan x="803">(14, 57)</tspan><tspan x="818">(14, 58)</tspan><tspan x="832">(14, 59)</tspan><tspan x="847">(14, 60)</tspan><tspan x="861">(14, 61)</tspan><tspan x="876">(14, 62)</tspan><tspan x="890">(14, 63)</tspan><tspan x="905">(14, 64)</tspan><tspan x="919">(14, 65)</tspan><tspan x="934">(14, 66)</tspan><tspan x="949">(14, 67)</tspan><tspan x="963">(14, 68)</tspan><tspan x="978">(14, 69)</tspan><tspan x="992">(14, 70)</tspan><tspan x="1007">(14, 71)</tspan><tspan x="1021">(14, 72)</tspan><tspan x="1036">(14, 73)</tspan><tspan x="1050">(14, 74)</tspan><tspan x="1065">(14, 75)</tspan><tspan x="1079">(14, 76)</tspan><tspan x="1094">(14, 77)</tspan><tspan x="1109">(14, 78)</tspan><tspan x="1123">(14, 79)</tspan><tspan x="1138">(14, 80)</tspan><tspan x="1152">(14, 81)</tspan><tspan x="1167">(14, 82)</tspan><tspan x="1181">(14, 83)</tspan><tspan x="1196">(14, 84)</tspan><tspan x="1210">(14, 85)</tspan><tspan x="1225">(14, 86)</tspan><tspan x="1240">(14, 87)</tspan><tspan x="1254">(14, 88)</tspan><tspan x="1269">(14, 89)</tspan><tspan x="1283">(14, 90)</tspan><tspan x="1298">(14, 91)</tspan><tspan x="1312">(14, 92)</tspan><tspan x="1327">(14, 93)</tspan><tspan x="1341">(14, 94)</tspan><tspan x="1356">(14, 95)</tspan><tspan x="1370">(14, 96)</tspan><tspan x="1385">(14, 97)</tspan><tspan x="1400">(14, 98)</tspan><tspan x="1414">(14, 99)</tspan><tspan x="1429">(14, 100)</tspan><tspan x="1443">(14, 101)</tspan><tspan x="1458">(14, 102)</tspan><tspan x="1472">(14, 103)</tspan><tspan x="1487">(14, 104)</tspan><tspan x="1501">(14, 105)</tspan></text></g>
<g id="row15" class="n" transform="translate(0 532.8)"><path d="M17.3 0H46.5M75.5 0H104.7M133.7 0H162.9M366.5 0H395.7M482.9 0H512.1M715.7 0H744.9M773.9 0H803.1M890.3 0H919.5M948.5 0H977.7M1006.7 0H1035.9M1064.9 0H1094.1M1181.3 0H1210.5M1239.5 0H1268.7M1355.9 0H1385.1M1472.3 0H1501.5"/><text y="4"><tspan x="17">(15, 3)</tspan><tspan x="32">(15, 4)</tspan><tspan x="46">(15, 5)</tspan><tspan x="76">(15, 7)</tspan><tspan x="90">(15, 8)</tspan><tspan x="105">(15, 9)</tspan><tspan x="134">(15, 11)</tspan><tspan x="148">(15, 12)</tspan><tspan x="163">(15, 13)</tspan><tspan x="367">(15, 27)</tspan><tspan x="381">(15, 28)</tspan><tspan x="396">(15, 29)</tspan><tspan x="483">(15, 35)</tspan><tspan x="497">(15, 36)</tspan><tspan x="512">(15, 37)</tspan><tspan x="716">(15, 51)</tspan><tspan x="730">(15, 52)</tspan><tspan x="745">(15, 53)</tspan><tspan x="774">(15, 55)</tspan><tspan x="788">(15, 56)</tspan><tspan x="803">(15, 57)</tspan><tspan x="890">(15, 63)</tspan><tspan x="905">(15, 64)</tspan><tspan x="919">(15, 65)</tspan><tspan x="949">(15, 67)</tspan><tspan x="963">(15, 68)</tspan><tspan x="978">(15, 69)</tspan><tspan x="1007">(15, 71)</tspan><tspan x="1021">(15, 72)</tspan><tspan x="1036">(15, 73)</tspan><tspan x="1065">(15, 75)</tspan><tspan x="1079">(15, 76)</tspan><tspan x="1094">(15, 77)</tspan><tspan x="1181">(15, 83)</tspan><tspan x="1196">(15, 84)</tspan><tspan x="1210">(15, 85)</tspan><tspan x="1240">(15, 87)</tspan><tspan x="1254">(15, 88)</tspan><tspan x="1269">(15, 89)</tspan><tspan x="1356">(15, 95)</tspan><tspan x="1370">(15, 96)</tspan><tspan x="1385">(15, 97)</tspan><tspan x="1472">(15, 103)</tspan><tspan x="1487">(15, 104)</tspan><tspan x="1501">(15, 105)</tspan></text></g>
<g id="row16" class="n" transform="translate(0 572.4)"><path d="M17.3 0H46.5M75.5 0H104.7M133.7 0H1501.5"/><text y="4"><tspan x="17">(16, 3)</tspan><tspan x="32">(16, 4)</tspan><tspan x="46">(16, 5)</tspan><tspan x="76">(16, 7)</tspan><tspan x="90">(16, 8)</tspan><tspan x="105">(16, 9)</tspan><tspan x="134">(16, 11)</tspan><tspan x="148">(16, 12)</tspan><tspan x="163">(16, 13)</tspan><tspan x="177">(16, 14)</tspan><tspan x="192">(16, 15)</tspan><tspan x="206">(16, 16)</tspan><tspan x="221">(16, 17)</tspan><tspan x="236">(16, 18)</tspan><tspan x="250">(16, 19)</tspan><tspan x="265">(16, 20)</tspan><tspan x="279">(16, 21)</tspan><tspan x="294">(16, 22)</tspan><tspan x="308">(16, 23)</tspan><tspan x="323">(16, 24)</tspan><tspan x="337">(16, 25)</tspan><tspan x="352">(16, 26)</tspan><tspan x="367">(16, 27)</tspan><tspan x="381">(16, 28)</tspan><tspan x="396">(16, 29)</tspan><tspan x="410">(16, 30)</tspan><tspan x="425">(16, 31)</tspan><tspan x="439">(16, 32)</tspan><tspan x="454">(16, 33)</tspan><tspan x="468">(16, 34)</tspan><tspan x="483">(16, 35)</tspan><tspan x="497">(16, 36)</tspan><tspan x="512">(16, 37)</tspan><tspan x="527">(16, 38)</tspan><tspan x="541">(16, 39)</tspan><tspan x="556">(16, 40)</tspan><tspan x="570">(16, 41)</tspan><tspan x="585">(16, 42)</tspan><tspan x="599">(16, 43)</tspan><tspan x="614">(16, 44)</tspan><tspan x="628">(16, 45)</tspan><tspan x="643">(16, 46)</tspan><tspan x="658">(16, 47)</tspan><tspan x="672">(16, 48)</tspan><tspan x="687">(16, 49)</tspan><tspan x="701">(16, 50)</tspan><tspan x="716">(16, 51)</tspan><tspan x="730">(16, 52)</tspan><tspan x="745">(16, 53)</tspan><tspan x="759">(16, 54)</tspan><tspan x="774">(16, 55)</tspan><tspan x="788">(16, 56)</tspan><tspan x="803">(16, 57)</tspan><tspan x="818">(16, 58)</tspan><tspan x="832">(16, 59)</tspan><tspan x="847">(16, 60)</tspan><tspan x="861">(16, 61)</tspan><tspan x="876">(16, 62)</tspan><tspan x="890">(16, 63)</tspan><tspan x="905">(16, 64)</tspan><tspan x="919">(16, 65)</tspan><tspan x="934">(16, 66)</tspan><tspan x="949">(16, 67)</tspan><tspan x="963">(16, 68)</tspan><tspan x="978">(16, 69)</tspan><tspan x="992">(16, 70)</tspan><tspan x="1007">(16, 71)</tspan><tspan x="1021">(16, 72)</tspan><tspan x="1036">(16, 73)</tspan><tspan x="1050">(16, 74)</tspan><tspan x="1065">(16, 75)</tspan><tspan x="1079">(16, 76)</tspan><tspan x="1094">(16, 77)</tspan><tspan x="1109">(16, 78)</tspan><tspan x="1123">(16, 79)</tspan><tspan x="1138">(16, 80)</tspan><tspan x="1152">(16, 81)</tspan><tspan x="1167">(16, 82)</tspan><tspan x="1181">(16, 83)</tspan><tspan x="1196">(16, 84)</tspan><tspan x="1210">(16, 85)</tspan><tspan x="1225">(16, 86)</tspan><tspan x="1240">(16, 87)</tspan><tspan x="1254">(16, 88)</tspan><tspan x="1269">(16, 89)</tspan><tspan x="1283">(16, 90)</tspan><tspan x="1298">(16, 91)</tspan><tspan x="1312">(16, 92)</tspan><tspan x="1327">(16, 93)</tspan><tspan x="1341">(16, 94)</tspan><tspan x="1356">(16, 95)</tspan><tspan x="1370">(16, 96)</tspan><tspan x="1385">(16, 97)</tspan><tspan x="1400">(16, 98)</tspan><tspan x="1414">(16, 99)</tspan><tspan x="1429">(16, 100)</tspan><tspan x="1443">(16, 101)</tspan><tspan x="1458">(16, 102)</tspan><tspan x="1472">(16, 103)</tspan><tspan x="1487">(16, 104)</tspan><tspan x="1501">(16, 105)</tspan></text></g>
<g id="row17" class="n" transform="translate(0 612)"><path d="M17.3 0H46.5M250.1 0H279.3M424.7 0H453.9M482.9 0H512.1M541.1 0H570.3M832.1 0H861.3M1006.7 0H1035.9M1181.3 0H1210.5M1239.5 0H1268.7M1297.7 0H1326.9M1414.1 0H1443.3M1472.3 0H1501.5"/><text y="4"><tspan x="17">(17, 3)</tspan><tspan x="32">(17, 4)</tspan><tspan x="46">(17, 5)</tspan><tspan x="250">(17, 19)</tspan><tspan x="265">(17, 20)</tspan><tspan x="279">(17, 21)</tspan><tspan x="425">(17, 31)</tspan><tspan x="439">(17, 32)</tspan><tspan x="454">(17, 33)</tspan><tspan x="483">(17, 35)</tspan><tspan x="497">(17, 36)</tspan><tspan x="512">(17, 37)</tspan><tspan x="541">(17, 39)</tspan><tspan x="556">(17, 40)</tspan><tspan x="570">(17, 41)</tspan><tspan x="832">(17, 59)</tspan><tspan x="847">(17, 60)</tspan><tspan x="861">(17, 61)</tspan><tspan x="1007">(17, 71)</tspan><tspan x="1021">(17, 72)</tspan><tspan x="1036">(17, 73)</tspan><tspan x="1181">(17, 83)</tspan><tspan x="1196">(17, 84)</tspan><tspan x="1210">(17, 85)</tspan><tspan x="1240">(17, 87)</tspan><tspan x="1254">(17, 88)</tspan><tspan x="1269">(17, 89)</tspan><tspan x="1298">(17, 91)</tspan><tspan x="1312">(17, 92)</tspan><tspan x="1327">(17, 93)</tspan><tspan x="1414">(17, 99)</tspan><tspan x="1429">(17, 100)</tspan><tspan x="1443">(17, 101)</tspan><tspan x="1472">(17, 103)</tspan><tspan x="1487">(17, 104)</tspan><tspan x="1501">(17, 105)</tspan></text></g>
<g id="row18" class="n" transform="translate(0 651.6)"><path d="M17.3 0H46.5M75.5 0H221.1M250.1 0H1501.5"/><text y="4"><tspan x="17">(18, 3)</tspan><tspan x="32">(18, 4)</tspan><tspan x="46">(18, 5)</tspan><tspan x="76">(18, 7)</tspan><tspan x="90">(18, 8)</tspan><tspan x="105">(18, 9)</tspan><tspan x="119">(18, 10)</tspan><tspan x="134">(18, 11)</tspan><tspan x="148">(18, 12)</tspan><tspan x="163">(18, 13)</tspan><tspan x="177">(18, 14)</tspan><tspan x="192">(18, 15)</tspan><tspan x="206">(18, 16)</tspan><tspan x="221">(18, 17)</tspan><tspan x="250">(18, 19)</tspan><tspan x="265">(18, 20)</tspan><tspan x="279">(18, 21)</tspan><tspan x="294">(18, 22)</tspan><tspan x="308">(18, 23)</tspan><tspan x="323">(18, 24)</tspan><tspan x="337">(18, 25)</tspan><tspan x="352">(18, 26)</tspan><tspan x="367">(18, 27)</tspan><tspan x="381">(18, 28)</tspan><tspan x="396">(18, 29)</tspan><tspan x="410">(18, 30)</tspan><tspan x="425">(18, 31)</tspan><tspan x="439">(18, 32)</tspan><tspan x="454">(18, 33)</tspan><tspan x="468">(18, 34)</tspan><tspan x="483">(18, 35)</tspan><tspan x="497">(18, 36)</tspan><tspan x="512">(18, 37)</tspan><tspan x="527">(18, 38)</tspan><tspan x="541">(18, 39)</tspan><tspan x="556">(18, 40)</tspan><tspan x="570">(18, 41)</tspan><tspan x="585">(18, 42)</tspan><tspan x="599">(18, 43)</tspan><tspan x="614">(18, 44)</tspan><tspan x="628">(18, 45)</tspan><tspan x="643">(18, 46)</tspan><tspan x="658">(18, 47)</tspan><tspan x="672">(18, 48)</tspan><tspan x="687">(18, 49)</tspan><tspan x="701">(18, 50)</tspan><tspan x="716">(18, 51)</tspan><tspan x="730">(18, 52)</tspan><tspan x="745">(18, 53)</tspan><tspan x="759">(18, 54)</tspan><tspan x="774">(18, 55)</tspan><tspan x="788">(18, 56)</tspan><tspan x="803">(18, 57)</tspan><tspan x="818">(18, 58)</tspan><tspan x="832">(18, 59)</tspan><tspan x="847">(18, 60)</tspan><tspan x="861">(18, 61)</tspan><tspan x="876">(18, 62)</tspan><tspan x="890">(18, 63)</tspan><tspan x="905">(18, 64)</tspan><tspan x="919">(18, 65)</tspan><tspan x="934">(18, 66)</tspan><tspan x="949">(18, 67)</tspan><tspan x="963">(18, 68)</tspan><tspan x="978">(18, 69)</tspan><tspan x="992">(18, 70)</tspan><tspan x="1007">(18, 71)</tspan><tspan x="1021">(18, 72)</tspan><tspan x="1036">(18, 73)</tspan><tspan x="1050">(18, 74)</tspan><tspan x="1065">(18, 75)</tspan><tspan x="1079">(18, 76)</tspan><tspan x="1094">(18, 77)</tspan><tspan x="1109">(18, 78)</tspan><tspan x="1123">(18, 79)</tspan><tspan x="1138">(18, 80)</tspan><tspan x="1152">(18, 81)</tspan><tspan x="1167">(18, 82)</tspan><tspan x="1181">(18, 83)</tspan><tspan x="1196">(18, 84)</tspan><tspan x="1210">(18, 85)</tspan><tspan x="1225">(18, 86)</tspan><tspan x="1240">(18, 87)</tspan><tspan x="1254">(18, 88)</tspan><tspan x="1269">(18, 89)</tspan><tspan x="1283">(18, 90)</tspan><tspan x="1298">(18, 91)</tspan><tspan x="1312">(18, 92)</tspan><tspan x="1327">(18, 93)</tspan><tspan x="1341">(18, 94)</tspan><tspan x="1356">(18, 95)</tspan><tspan x="1370">(18, 96)</tspan><tspan x="1385">(18, 97)</tspan><tspan x="1400">(18, 98)</tspan><tspan x="1414">(18, 99)</tspan><tspan x="1429">(18, 100)</tspan><tspan x="1443">(18, 101)</tspan><tspan x="1458">(18, 102)</tspan><tspan x="1472">(18, 103)</tspan><tspan x="1487">(18, 104)</tspan><tspan x="1501">(18, 105)</tspan></text></g>
<g id="row19" class="n" transform="translate(0 691.2)"><path d="M17.3 0H46.5M75.5 0H104.7M191.9 0H221.1M250.1 0H279.3M308.3 0H337.5M366.5 0H395.7M424.7 0H453.9M482.9 0H512.1M773.9 0H803.1M890.3 0H919.5M948.5 0H977.7M1064.9 0H1094.1M1123.1 0H1152.3M1239.5 0H1268.7M1355.9 0H1385.1M1414.1 0H1443.3M1472.3 0H1501.5"/><text y="4"><tspan x="17">(19, 3)</tspan><tspan x="32">(19, 4)</tspan><tspan x="46">(19, 5)</tspan><tspan x="76">(19, 7)</tspan><tspan x="90">(19, 8)</tspan><tspan x="105">(19, 9)</tspan><tspan x="192">(19, 15)</tspan><tspan x="206">(19, 16)</tspan><tspan x="221">(19, 17)</tspan><tspan x="250">(19, 19)</tspan><tspan x="265">(19, 20)</tspan><tspan x="279">(19, 21)</tspan><tspan x="308">(19, 23)</tspan><tspan x="323">(19, 24)</tspan><tspan x="337">(19, 25)</tspan><tspan x="367">(19, 27)</tspan><tspan x="381">(19, 28)</tspan><tspan x="396">(19, 29)</tspan><tspan x="425">(19, 31)</tspan><tspan x="439">(19, 32)</tspan><tspan x="454">(19, 33)</tspan><tspan x="483">(19, 35)</tspan><tspan x="497">(19, 36)</tspan><tspan x="512">(19, 37)</tspan><tspan x="774">(19, 55)</tspan><tspan x="788">(19, 56)</tspan><tspan x="803">(19, 57)</tspan><tspan x="890">(19, 63)</tspan><tspan x="905">(19, 64)</tspan><tspan x="919">(19, 65)</tspan><tspan x="949">(19, 67)</tspan><tspan x="963">(19, 68)</tspan><tspan x="978">(19, 69)</tspan><tspan x="1065">(19, 75)</tspan><tspan x="1079">(19, 76)</tspan><tspan x="1094">(19, 77)</tspan><tspan x="1123">(19, 79)</tspan><tspan x="1138">(19, 80)</tspan><tspan x="1152">(19, 81)</tspan><tspan x="1240">(19, 87)</tspan><tspan x="1254">(19, 88)</tspan><tspan x="1269">(19, 89)</tspan><tspan x="1356">(19, 95)</tspan><tspan x="1370">(19, 96)</tspan><tspan x="1385">(19, 97)</tspan><tspan x="1414">(19, 99)</tspan><tspan x="1429">(19, 100)</tspan><tspan x="1443">(19, 101)</tspan><tspan x="1472">(19, 103)</tspan><tspan x="1487">(19, 104)</tspan><tspan x="1501">(19, 105)</tspan></text></g>
<g id="row20" class="n" transform="translate(0 730.8)"><path d="M17.3 0H104.7M133.7 0H1501.5"/><text y="4"><tspan x="17">(20, 3)</tspan><tspan x="32">(20, 4)</tspan><tspan x="46">(20, 5)</tspan><tspan x="61">(20, 6)</tspan><tspan x="76">(20, 7)</tspan><tspan x="90">(20, 8)</tspan><tspan x="105">(20, 9)</tspan><tspan x="134">(20, 11)</tspan><tspan x="148">(20, 12)</tspan><tspan x="163">(20, 13)</tspan><tspan x="177">(20, 14)</tspan><tspan x="192">(20, 15)</tspan><tspan x="206">(20, 16)</tspan><tspan x="221">(20, 17)</tspan><tspan x="236">(20, 18)</tspan><tspan x="250">(20, 19)</tspan><tspan x="265">(20, 20)</tspan><tspan x="279">(20, 21)</tspan><tspan x="294">(20, 22)</tspan><tspan x="308">(20, 23)</tspan><tspan x="323">(20, 24)</tspan><tspan x="337">(20, 25)</tspan><tspan x="352">(20, 26)</tspan><tspan x="367">(20, 27)</tspan><tspan x="381">(20, 28)</tspan><tspan x="396">(20, 29)</tspan><tspan x="410">(20, 30)</tspan><tspan x="425">(20, 31)</tspan><tspan x="439">(20, 32)</tspan><tspan x="454">(20, 33)</tspan><tspan x="468">(20, 34)</tspan><tspan x="483">(20, 35)</tspan><tspan x="497">(20, 36)</tspan><tspan x="512">(20, 37)</tspan><tspan x="527">(20, 38)</tspan><tspan x="541">(20, 39)</tspan><tspan x="556">(20, 40)</tspan><tspan x="570">(20, 41)</tspan><tspan x="585">(20, 42)</tspan><tspan x="599">(20, 43)</tspan><tspan x="614">(20, 44)</tspan><tspan x="628">(20, 45)</tspan><tspan x="643">(20, 46)</tspan><tspan x="658">(20, 47)</tspan><tspan x="672">(20, 48)</tspan><tspan x="687">(20, 49)</tspan><tspan x="701">(20, 50)</tspan><tspan x="716">(20, 51)</tspan><tspan x="730">(20, 52)</tspan><tspan x="745">(20, 53)</tspan><tspan x="759">(20, 54)</tspan><tspan x="774">(20, 55)</tspan><tspan x="788">(20, 56)</tspan><tspan x="803">(20, 57)</tspan><tspan x="818">(20, 58)</tspan><tspan x="832">(20, 59)</tspan><tspan x="847">(20, 60)</tspan><tspan x="861">(20, 61)</tspan><tspan x="876">(20, 62)</tspan><tspan x="890">(20, 63)</tspan><tspan x="905">(20, 64)</tspan><tspan x="919">(20, 65)</tspan><tspan x="934">(20, 66)</tspan><tspan x="949">(20, 67)</tspan><tspan x="963">(20, 68)</tspan><tspan x="978">(20, 69)</tspan><tspan x="992">(20, 70)</tspan><tspan x="1007">(20, 71)</tspan><tspan x="1021">(20, 72)</tspan><tspan x="1036">(20, 73)</tspan><tspan x="1050">(20, 74)</tspan><tspan x="1065">(20, 75)</tspan><tspan x="1079">(20, 76)</tspan><tspan x="1094">(20, 77)</tspan><tspan x="1109">(20, 78)</tspan><tspan x="1123">(20, 79)</tspan><tspan x="1138">(20, 80)</tspan><tspan x="1152">(20, 81)</tspan><tspan x="1167">(20, 82)</tspan><tspan x="1181">(20, 83)</tspan><tspan x="1196">(20, 84)</tspan><tspan x="1210">(20, 85)</tspan><tspan x="1225">(20, 86)</tspan><tspan x="1240">(20, 87)</tspan><tspan x="1254">(20, 88)</tspan><tspan x="1269">(20, 89)</tspan><tspan x="1283">(20, 90)</tspan><tspan x="1298">(20, 91)</tspan><tspan x="1312">(20, 92)</tspan><tspan x="1327">(20, 93)</tspan><tspan x="1341">(20, 94)</tspan><tspan x="1356">(20, 95)</tspan><tspan x="1370">(20, 96)</tspan><tspan x="1385">(20, 97)</tspan><tspan x="1400">(20, 98)</tspan><tspan x="1414">(20, 99)</tspan><tspan x="1429">(20, 100)</tspan><tspan x="1443">(20, 101)</tspan><tspan x="1458">(20, 102)</tspan><tspan x="1472">(20, 103)</tspan><tspan x="1487">(20, 104)</tspan><tspan x="1501">(20, 105)</tspan></text></g>
</svg>
